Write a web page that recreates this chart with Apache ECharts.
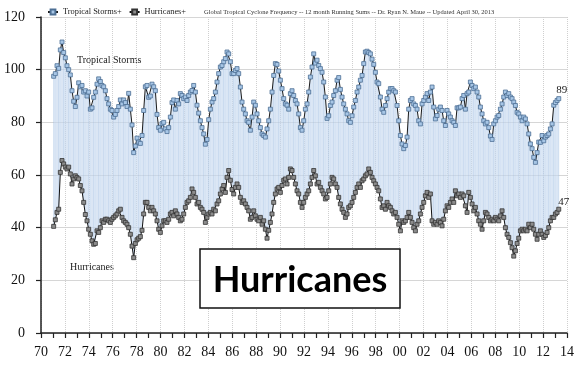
<!DOCTYPE html>
<html><head><meta charset="utf-8">
<script src="https://cdn.jsdelivr.net/npm/echarts@6/dist/echarts.min.js"></script>
<style>html,body{margin:0;padding:0;background:#fff}#c{width:582px;height:368px}</style>
</head><body><div id="c"></div>
<script>
// 12-month running sums, sampled roughly every 1.7 months from early 1971 to April 2013
const tropicalStorms = [
97.5,98.5,101.5,100.5,107.5,110.5,106.5,104.5,101.5,100,
98,92,88,86,89.5,95,93.5,94,91.5,92,
90,91.5,85,85.5,89.5,91.5,94.5,96.5,95.5,94,
93.5,92,89,87,85,84.5,82,83,84.5,86,
88.5,87,88.5,87.5,86,91,85,79,68.5,71,
74,72.5,72,75,84.5,93.5,94,89.5,90,94.5,
93.5,92,83,78,77,79.5,80,77.5,76.5,78,
82,87.5,88.5,
85,88.3,87,90.9,90.2,89,89.6,88.3,90.2,91.5,
92.1,94,91.5,86.5,83.5,80.6,78,75.6,71.7,73.5,
81,85,87.7,89,91.5,95.3,98.5,101,101.6,103,
104.2,106.7,106,103,98.5,98.5,99.7,100.4,98.5,93.4,
87.7,85,83.2,80.6,80,77,82,87.7,86.5,83.2,
80.6,78,75.6,75,74.4,77.5,80.6,85,91.5,97.8,
102.3,102,99.5,96,92.8,89,87,86.5,85,90.9,
92,90.2,88.3,87,83.2,78,
77,80.6,85,87,91.5,97.2,101,106,102.5,103.6,
101.6,100.4,99,95.3,89.6,81.5,82.5,86.4,87.7,90.2,
92,96,97,92.5,89.6,87,85,83.2,80.6,80,
82.5,85.8,88.3,91.5,93.4,96,97.8,102.3,106.7,107,
106.5,106,104,102,99,95.3,94.7,89.6,85,83.8,
86.4,89,91.5,92.8,92.8,92,91.5,86.4,80.6,75,
71.8,70,71.2,74.4,85,88.3,89,87,86.4,85,
80.6,79.4,87,88.3,89.6,90.9,88.3,91.5,
93.4,85.8,81.3,82.6,85,85.8,84.5,80.6,78.8,84.5,
83.2,82,80.6,80,78.8,85.5,85.5,85.8,89,90.2,
85,90.9,91.5,95.3,94,92.8,93.4,91.5,89.6,85.8,
83.2,80.6,79.4,80,78,74.8,73.5,79.4,80.6,82,
82.6,85,87,89.6,91.5,90.2,90.9,89.6,89,87.7,
86.4,83.8,83.2,82,80.6,82,81.3,79.4,75.6,71.8,
70,66.7,64.8,68.5,72.5,72.4,75,73,74.4,75,
75.6,77.5,79.4,86.5,87.5,88.3,89
];
const hurricanes = [
40.5,43,45.8,47,61,65.5,64.2,63,62.3,63,
60.4,56.6,58.5,59.7,59,58.5,56,54,49.6,45,
42.6,39.4,37.5,35,33.7,34,38.8,38.2,40,42.6,
42,43.2,43.2,42.6,42,43.2,43.9,44.5,45.2,46.4,
47,43.9,42.6,42,41.3,40,37.5,33,28.6,34,
35.4,36,36.6,39,45.2,49.6,49.6,47.7,46.4,47.7,
46.4,45.2,42.6,39.4,38.2,40.7,42.6,42.6,42,43.2,
45.2,45.8,44.5,
46.4,45.2,43.9,42.6,43.2,45.2,47.7,49.6,50.2,51.5,
54.7,53.4,51.5,49,49.6,47.7,47,45.8,42,43.9,
45.2,45.8,45.2,47,46.4,49,50.2,52.8,54.7,56,
53.4,59.1,61.7,58,54.5,52.8,55.3,56.6,55.3,51.5,
49.6,50.2,49,47.7,46.4,43.2,43.9,46.4,44.5,43.2,
42.6,43.9,41.3,42.6,39.4,36,39,42,45.2,49.6,
52.8,54.7,55.3,53.4,56,58,58.5,56.6,59.1,62.3,
61.7,59.1,56.6,54,52.8,49.6,
47.7,49.6,51.5,52.8,54,56.6,59.1,61.7,59.7,56.6,
57.2,55.3,54,52.8,50.9,51.5,54,56.6,59.1,58.5,
56.6,55.3,51.5,49,47,45.8,43.9,45.2,47.7,48.3,
49.6,51.5,53.4,55.3,56.6,55.3,57.8,58.5,59.7,60.4,
62.3,61,59.1,57.8,56.6,55.3,54,50.9,47.7,48.3,
47,49.6,48.3,47.7,46.4,45.2,45.8,43.9,41.3,38.8,
42.6,42,42.6,43.9,45.8,43.9,42,40,38.8,41.3,
42.6,45.2,47.7,49.6,52.1,53.4,51.5,52.8,
42.6,41.3,42,41.3,42.6,42,40.7,43.2,46.4,48.3,
47.7,49.6,50.9,49.6,54,52.1,52.8,51.5,52.8,52.1,
48.3,45.8,53.4,51.5,49,46.4,47.7,45.2,42.6,41.3,
39.4,42.6,45.8,45.2,43.9,42.6,43.2,42.6,43.9,43.2,
42.6,44.5,46.4,43.9,40,37.5,36.3,34.3,32.4,29.2,
31.2,34,36,38.8,39.4,38.8,39.4,38.8,41.3,40,
41.3,39.4,37.5,35.6,37.5,38.8,37.5,36.3,37,38.2,
40,42.6,43.9,43.9,45.2,45.8,47
];
const firstSampleYear = 1971.06;
const lastSampleYear = 2013.31;
const yearTickLabels = ['70','72','74','76','78','80','82','84','86','88','90','92','94','96','98','00','02','04','06','08','10','12','14'];
const valueTickLabels = ['0','20','40','60','80','100','120'];
const seriesNames = ['Tropical Storms+', 'Hurricanes+'];
const endLabels = ['89', '47'];

const n = tropicalStorms.length;
const years = tropicalStorms.map((_, i) => firstSampleYear + i * (lastSampleYear - firstSampleYear) / (n - 1));
const serif = "'Liberation Serif','Times New Roman',serif";

function lineData(vals, endLabel, labelOffset) {
  return vals.map((v, i) => {
    if (i === vals.length - 1) {
      return { value: [years[i], v], label: { show: true, position: 'top', offset: labelOffset, formatter: endLabel,
        fontFamily: serif, fontSize: 11, color: '#222' } };
    }
    return [years[i], v];
  });
}

const bandData = years.map((x, i) => [x, tropicalStorms[i], hurricanes[i]]);

function renderBand(params, api) {
  if (params.dataIndex !== 0) return null;
  const top = years.map((x, i) => api.coord([x, tropicalStorms[i]]));
  const bot = years.map((x, i) => api.coord([x, hurricanes[i]]));
  const children = [{
    type: 'polygon',
    shape: { points: top.concat(bot.slice().reverse()) },
    style: { fill: 'rgba(205,222,242,0.6)' }
  }];
  for (let i = 0; i < n; i += 1) {
    children.push({
      type: 'line',
      shape: { x1: top[i][0], y1: top[i][1], x2: bot[i][0], y2: bot[i][1] },
      style: { stroke: 'rgba(140,175,218,' + (i % 3 === 0 ? 0.32 : 0.14) + ')', lineWidth: 1 }
    });
  }
  return { type: 'group', children };
}

const chart = echarts.init(document.getElementById('c'), null, { renderer: 'canvas' });
chart.setOption({
  animation: false,
  backgroundColor: '#fff',
  title: {
    text: 'Global Tropical Cyclone Frequency -- 12 month Running Sums -- Dr. Ryan N. Maue -- Updated April 30, 2013',
    left: 199, top: 4,
    textStyle: { fontFamily: serif, fontSize: 6.5, fontWeight: 'normal', color: '#333' }
  },
  legend: {
    data: seriesNames,
    left: 42, top: 3,
    itemWidth: 10, itemHeight: 6, itemGap: 7,
    textStyle: { fontFamily: serif, fontSize: 8.4, color: '#222' }
  },
  grid: { left: 41, right: 15, top: 17, bottom: 35 },
  xAxis: {
    type: 'value', min: 1970, max: 2014, interval: 2,
    axisLine: { show: true, lineStyle: { color: '#222', width: 1.5 } },
    axisTick: { show: true, length: 5, lineStyle: { color: '#222', width: 1.2 } },
    minorTick: { show: true, splitNumber: 2, length: 5, lineStyle: { color: '#222', width: 1.2 } },
    splitLine: { show: true, lineStyle: { color: '#cfcfcf', type: 'dotted', width: 1 } },
    axisLabel: { margin: 12, fontFamily: serif, fontSize: 14, color: '#111',
      formatter: v => yearTickLabels[Math.round((v - 1970) / 2)] }
  },
  yAxis: {
    type: 'value', min: 0, max: 120, interval: 20,
    axisLine: { show: true, lineStyle: { color: '#222', width: 1.5 } },
    axisTick: { show: true, length: 5, lineStyle: { color: '#222', width: 1.2 } },
    splitLine: { show: true, lineStyle: { color: '#d6d6d6', width: 1 } },
    axisLabel: { margin: 16, fontFamily: serif, fontSize: 14, color: '#111',
      formatter: v => valueTickLabels[Math.round(v / 20)] }
  },
  series: [
    {
      type: 'custom', name: 'band', silent: true, z: 1,
      renderItem: renderBand,
      encode: { x: 0, y: [1, 2] },
      data: bandData
    },
    {
      type: 'line', name: seriesNames[0], z: 3,
      data: lineData(tropicalStorms, endLabels[0], [3, 4]),
      symbol: 'rect', symbolSize: 4, showAllSymbol: true,
      lineStyle: { color: '#1b1b1b', width: 1 },
      itemStyle: { color: '#a7c6e6', borderColor: '#4d6f94', borderWidth: 0.8 }
    },
    {
      type: 'line', name: seriesNames[1], z: 3,
      data: lineData(hurricanes, endLabels[1], [5, 6]),
      symbol: 'rect', symbolSize: 4, showAllSymbol: true,
      lineStyle: { color: '#111', width: 1 },
      itemStyle: { color: '#8c8c8c', borderColor: '#333', borderWidth: 0.8 }
    }
  ],
  graphic: [
    { type: 'text', left: 77, top: 55, silent: true,
      style: { text: 'Tropical Storms', font: "10px 'Liberation Serif', serif", fill: '#222' } },
    { type: 'text', left: 70, top: 262, silent: true,
      style: { text: 'Hurricanes', font: "10px 'Liberation Serif', serif", fill: '#222' } },
    { type: 'rect', x: 200, y: 249, z: 10, silent: true,
      shape: { x: 0, y: 0, width: 200, height: 59 },
      style: { fill: '#fff', stroke: '#111', lineWidth: 1.5 } },
    { type: 'text', x: 300, y: 280, z: 11, silent: true,
      style: { text: 'Hurricanes', x: 0, y: 0, font: "bold 36px Lato, 'Open Sans', sans-serif", fill: '#000',
        align: 'center', verticalAlign: 'middle' } }
  ]
});
</script>
</body></html>
